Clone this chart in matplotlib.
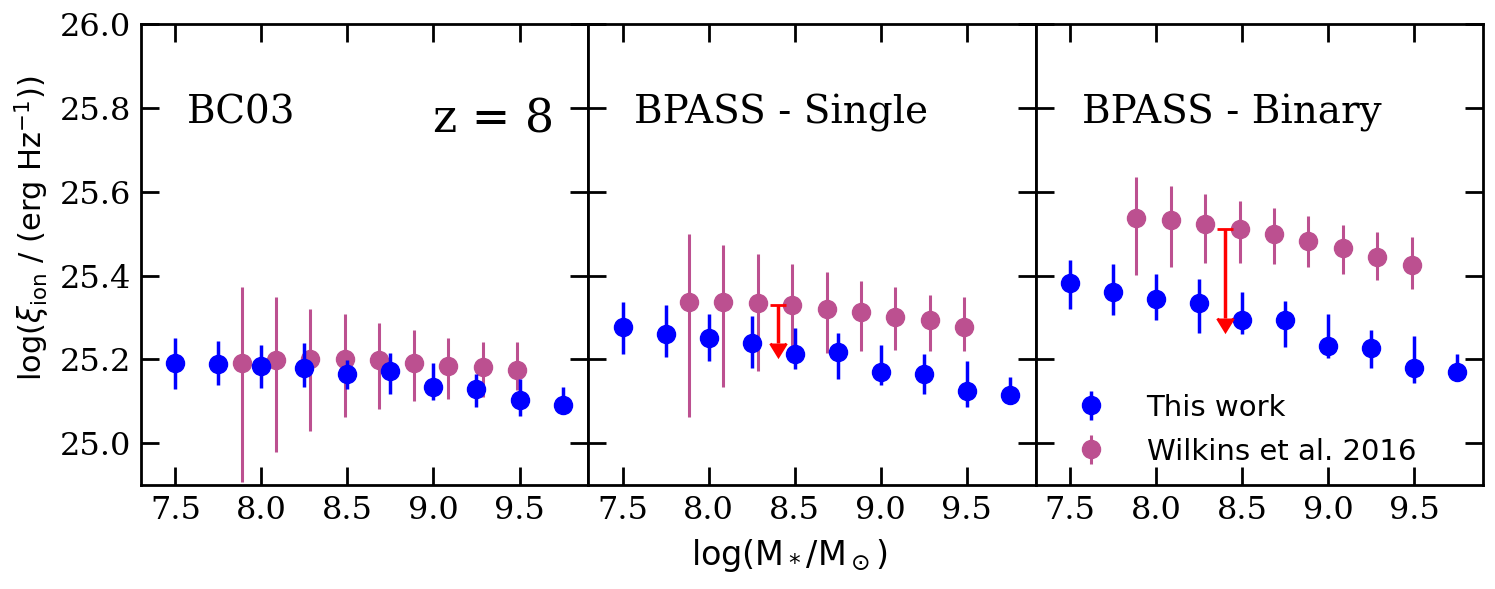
import matplotlib
matplotlib.use("Agg")
import matplotlib.pyplot as plt
import numpy as np

# ---- data ----
panel_names = ["BC03", "BPASS - Single", "BPASS - Binary"]

mass_this = [7.5, 7.75, 8.0, 8.25, 8.5, 8.75, 9.0, 9.25, 9.5, 9.75]
mass_wilk = [7.885, 8.085, 8.285, 8.485, 8.685, 8.885, 9.085, 9.285, 9.485]

# This work: values, upper err top, lower err bottom (absolute)
this_val = [
    [25.191, 25.188, 25.184, 25.180, 25.164, 25.172, 25.134, 25.130, 25.102, 25.092],
    [25.276, 25.260, 25.251, 25.239, 25.212, 25.218, 25.170, 25.164, 25.124, 25.114],
    [25.381, 25.361, 25.345, 25.335, 25.295, 25.295, 25.231, 25.227, 25.180, 25.170],
]
this_top = [
    [25.250, 25.244, 25.235, 25.238, 25.198, 25.214, 25.190, 25.166, 25.154, 25.134],
    [25.337, 25.329, 25.308, 25.303, 25.274, 25.263, 25.235, 25.212, 25.196, 25.158],
    [25.437, 25.427, 25.403, 25.392, 25.361, 25.340, 25.309, 25.271, 25.256, 25.212],
]
this_bot = [
    [25.130, 25.138, 25.132, 25.134, 25.130, 25.118, 25.104, 25.086, 25.065, 25.092],
    [25.212, 25.206, 25.196, 25.180, 25.178, 25.154, 25.138, 25.118, 25.086, 25.114],
    [25.321, 25.305, 25.294, 25.263, 25.260, 25.230, 25.204, 25.179, 25.144, 25.170],
]

wilk_val = [
    [25.190, 25.198, 25.200, 25.200, 25.199, 25.190, 25.184, 25.182, 25.174],
    [25.337, 25.337, 25.335, 25.329, 25.321, 25.313, 25.302, 25.294, 25.276],
    [25.538, 25.533, 25.522, 25.510, 25.499, 25.483, 25.465, 25.445, 25.425],
]
wilk_top = [
    [25.372, 25.349, 25.320, 25.309, 25.286, 25.271, 25.251, 25.242, 25.242],
    [25.498, 25.473, 25.451, 25.428, 25.409, 25.388, 25.372, 25.353, 25.348],
    [25.634, 25.614, 25.594, 25.577, 25.561, 25.542, 25.520, 25.503, 25.491],
]
wilk_bot = [
    [24.907, 24.978, 25.029, 25.062, 25.082, 25.100, 25.106, 25.110, 25.126],
    [25.062, 25.134, 25.172, 25.230, 25.214, 25.220, 25.223, 25.220, 25.220],
    [25.401, 25.420, 25.431, 25.429, 25.427, 25.421, 25.404, 25.389, 25.367],
]

# red upper-limit arrows (panel index, x, top value, length)
arrow_panel = [1, 2]
arrow_x = [8.4, 8.4]
arrow_top = [25.329, 25.510]
arrow_len = [0.091, 0.212]

xticks = [7.5, 8.0, 8.5, 9.0, 9.5]
yticks = [25.0, 25.2, 25.4, 25.6, 25.8, 26.0]

# ---- plot ----
fig = plt.figure(figsize=(14.95, 5.89), dpi=100)
left, right, bottom, top = 0.0943, 0.992, 0.1766, 0.959
w = (right - left) / 3
axes = [fig.add_axes([left + i * w, bottom, w, top - bottom]) for i in range(3)]

blue = "#0000ff"
pink = "#bc5090"

for i, ax in enumerate(axes):
    tv, tt, tb = np.array(this_val[i]), np.array(this_top[i]), np.array(this_bot[i])
    wv, wt, wb = np.array(wilk_val[i]), np.array(wilk_top[i]), np.array(wilk_bot[i])
    ax.errorbar(mass_this, tv, yerr=[tv - tb, tt - tv], fmt="o", color=blue,
                ms=13, elinewidth=2.5, capsize=0, label="This work", zorder=3)
    ax.errorbar(mass_wilk, wv, yerr=[wv - wb, wt - wv], fmt="o", color=pink,
                ms=13, elinewidth=2.2, capsize=0, label="Wilkins et al. 2016", zorder=2)
    for p, ax_x, ay, al in zip(arrow_panel, arrow_x, arrow_top, arrow_len):
        if p == i:
            ax.errorbar([ax_x], [ay], yerr=[[al], [0]], fmt="none", ecolor="red",
                        color="red", elinewidth=2.5, capsize=6, capthick=2,
                        uplims=True, zorder=4)
    ax.set_xlim(7.3, 9.9)
    ax.set_ylim(24.9, 26.0)
    ax.set_xticks(xticks)
    ax.set_yticks(yticks)
    ax.set_xticklabels(["%.1f" % t for t in xticks], family="DejaVu Serif", fontsize=23)
    if i == 0:
        ax.set_yticklabels(["%.1f" % t for t in yticks], family="DejaVu Serif", fontsize=23)
    else:
        ax.set_yticklabels([])
    ax.tick_params(direction="in", length=13, width=2, top=True, right=True, pad=7)
    for s in ax.spines.values():
        s.set_linewidth(2)
    ax.text(0.103, 0.785, panel_names[i], transform=ax.transAxes, family="DejaVu Serif",
            fontsize=28, ha="left", va="baseline")

axes[0].text(0.924, 0.764, "z = 8", transform=axes[0].transAxes, family="DejaVu Serif",
             fontsize=33, ha="right", va="baseline")

axes[0].set_ylabel(r"log($\xi_{\rm ion}$ / (erg Hz$^{-1}$))", fontsize=22)
axes[0].yaxis.set_label_coords(-0.2, 0.557)
axes[1].set_xlabel(r"log(M$_*$/M$_\odot$)", fontsize=24)
axes[1].xaxis.set_label_coords(0.449, -0.112)

axes[2].legend(loc="lower left", bbox_to_anchor=(0.0, -0.015), frameon=False,
               fontsize=21, handletextpad=0.9, labelspacing=0.55, numpoints=1)

fig.savefig("out.png", dpi=100)
